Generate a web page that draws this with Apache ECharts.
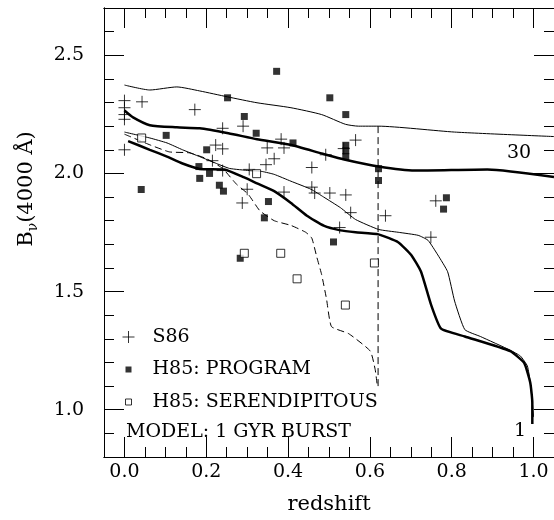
<!DOCTYPE html>
<html><head><meta charset="utf-8">
<script src="https://cdn.jsdelivr.net/npm/echarts@6/dist/echarts.min.js"></script>
<style>html,body{margin:0;padding:0;background:#fff}#c{width:554px;height:520px}</style>
</head><body><div id="c"></div>
<script>
// ---- data ----
const s86 = [[0.0,2.308],[0.0,2.278],[0.0,2.249],[0.0,2.229],[0.0,2.10],[0.043,2.303],[0.172,2.27],[0.24,2.191],[0.215,2.054],[0.223,2.12],[0.24,2.104],[0.24,2.012],[0.29,2.2],[0.30,1.933],[0.288,1.875],[0.305,2.017],[0.349,2.108],[0.366,2.062],[0.346,2.037],[0.383,2.145],[0.39,2.108],[0.39,1.921],[0.458,2.025],[0.458,1.942],[0.465,1.917],[0.492,2.079],[0.502,1.917],[0.541,1.909],[0.553,1.834],[0.526,1.771],[0.565,2.141],[0.536,2.105],[0.638,1.821],[0.761,1.884],[0.749,1.73]];
const h85Program = [[0.041,1.932],[0.102,2.161],[0.182,2.029],[0.184,1.979],[0.201,2.10],[0.208,2.0],[0.232,1.95],[0.242,1.925],[0.252,2.32],[0.283,1.641],[0.293,2.241],[0.322,2.17],[0.342,1.812],[0.352,1.881],[0.372,2.432],[0.412,2.129],[0.502,2.32],[0.511,1.71],[0.541,2.249],[0.541,2.119],[0.541,2.096],[0.541,2.071],[0.621,2.02],[0.621,1.97],[0.78,1.849],[0.787,1.897]];
const h85Serendip = [[0.042,2.15],[0.323,1.999],[0.293,1.662],[0.382,1.662],[0.422,1.554],[0.611,1.621],[0.54,1.443]];
// model curves
const thinUpper = [[0.0,2.374],[0.062,2.353],[0.128,2.366],[0.184,2.349],[0.252,2.324],[0.324,2.299],[0.407,2.278],[0.482,2.249],[0.54,2.208],[0.572,2.20],[0.62,2.20],[0.807,2.175],[1.05,2.156]];
const thickUpper = [[0.0,2.266],[0.021,2.237],[0.062,2.204],[0.128,2.195],[0.184,2.191],[0.254,2.17],[0.324,2.145],[0.405,2.121],[0.485,2.083],[0.54,2.058],[0.621,2.029],[0.71,2.012],[0.887,2.017],[1.05,1.985]];
const thinLower = [[0.0,2.175],[0.062,2.15],[0.104,2.129],[0.142,2.10],[0.184,2.071],[0.225,2.042],[0.257,2.021],[0.305,2.012],[0.337,2.008],[0.366,1.996],[0.407,1.967],[0.456,1.933],[0.487,1.90],[0.528,1.855],[0.565,1.805],[0.621,1.763],[0.669,1.751],[0.718,1.738],[0.742,1.717],[0.766,1.655],[0.79,1.584],[0.807,1.46],[0.832,1.339],[0.87,1.31],[0.943,1.252],[0.968,1.227],[0.985,1.185],[0.992,1.114],[0.997,1.031],[1.0,0.969]];
const thickLower = [[0.009,2.137],[0.062,2.10],[0.104,2.071],[0.142,2.042],[0.184,2.019],[0.244,2.017],[0.293,1.983],[0.324,1.958],[0.366,1.925],[0.407,1.875],[0.446,1.821],[0.487,1.779],[0.528,1.759],[0.565,1.751],[0.621,1.742],[0.669,1.709],[0.701,1.655],[0.725,1.584],[0.749,1.447],[0.774,1.343],[0.832,1.31],[0.943,1.248],[0.977,1.198],[0.992,1.114],[0.997,1.031],[0.997,0.94]];
const dashedModel = [[0.0,2.166],[0.062,2.121],[0.11,2.091],[0.159,2.087],[0.201,2.062],[0.24,2.021],[0.274,1.954],[0.302,1.913],[0.331,1.842],[0.366,1.80],[0.407,1.78],[0.443,1.751],[0.458,1.726],[0.47,1.647],[0.482,1.572],[0.494,1.468],[0.506,1.352],[0.548,1.322],[0.601,1.248],[0.613,1.169],[0.618,1.102]];
const cutoffLine = [[0.62,1.10],[0.62,2.20]];
// axis ticks
const xMajorTicks = [0.0,0.2,0.4,0.6,0.8,1.0];
const xMinorTicks = [-0.05,0.0,0.05,0.1,0.15,0.2,0.25,0.3,0.35,0.4,0.45,0.5,0.55,0.6,0.65,0.7,0.75,0.8,0.85,0.9,0.95,1.0,1.05];
const yMajorTicks = [1.0,1.5,2.0,2.5];
const yMinorTicks = [0.8,0.9,1.0,1.1,1.2,1.3,1.4,1.5,1.6,1.7,1.8,1.9,2.0,2.1,2.2,2.3,2.4,2.5,2.6,2.7];

const FONT = 'DejaVu Serif';
const BLACK = '#000';
const chart = echarts.init(document.getElementById('c'), null, {renderer:'canvas'});

function xAx(pos, ticks, len, labels){
  return {type:'value', min:-0.05, max:1.05, position:pos,
    axisLine:{show:true, onZero:false, lineStyle:{color:BLACK, width:1}},
    axisTick:{show:true, inside:true, length:len, customValues:ticks, lineStyle:{color:BLACK, width:1}},
    axisLabel:{show:labels, customValues:xMajorTicks, margin:6, color:BLACK, fontFamily:FONT, fontSize:19, formatter:v=>v.toFixed(1)},
    splitLine:{show:false}};
}
function yAx(pos, ticks, len, labels){
  return {type:'value', min:0.8, max:2.7, position:pos,
    axisLine:{show:true, onZero:false, lineStyle:{color:BLACK, width:1}},
    axisTick:{show:true, inside:true, length:len, customValues:ticks, lineStyle:{color:BLACK, width:1}},
    axisLabel:{show:labels, customValues:yMajorTicks, margin:20, color:BLACK, fontFamily:FONT, fontSize:19, formatter:v=>v.toFixed(1)},
    splitLine:{show:false}};
}
const xa = xAx('bottom', xMajorTicks, 20, true);
xa.name = 'redshift'; xa.nameLocation='middle'; xa.nameGap=37;
xa.nameTextStyle = {fontFamily:FONT, fontSize:21, color:BLACK};

function lineS(data, width, dashed, smooth){
  return {type:'line', data:data, symbol:'none', showSymbol:false, silent:true, smooth:smooth,
    lineStyle:{color:BLACK, width:width, type: dashed ? [7,4] : 'solid'}, z:2, animation:false};
}

const option = {
  animation:false,
  backgroundColor:'#fff',
  grid:{left:104, top:8, width:453, height:456, containLabel:false},
  xAxis:[xa, xAx('bottom', xMinorTicks, 10, false), xAx('top', xMajorTicks, 20, false), xAx('top', xMinorTicks, 10, false)],
  yAxis:[yAx('left', yMajorTicks, 20, true), yAx('left', yMinorTicks, 10, false), yAx('right', yMajorTicks, 20, false), yAx('right', yMinorTicks, 10, false)],
  legend:{orient:'vertical', left:119, top:327.5, padding:0, itemWidth:26, itemHeight:14, itemGap:13.5, selectedMode:false,
    textStyle:{fontFamily:FONT, fontSize:19, color:BLACK},
    data:[
      {name:'S86', icon:'path://M0,0M26,14M1,7L13,7M7,1L7,13', itemStyle:{color:'none', borderColor:BLACK, borderWidth:1}},
      {name:'H85: PROGRAM', icon:'path://M0,0M26,14M4,4L10,4L10,10L4,10Z', itemStyle:{color:BLACK, borderWidth:0}},
      {name:'H85: SERENDIPITOUS', icon:'path://M0,0M26,14M4,4L10,4L10,10L4,10Z', itemStyle:{color:'#fff', borderColor:BLACK, borderWidth:1}}
    ]},
  series:[
    lineS(thinUpper, 1, false, 0.2),
    lineS(thickUpper, 2.5, false, 0.2),
    lineS(thinLower, 1, false, 0.15),
    lineS(thickLower, 2.5, false, 0.15),
    lineS(dashedModel, 1, true, 0.15),
    lineS(cutoffLine, 1, true, false),
    {type:'scatter', name:'S86', data:s86, symbol:'path://M0,6L12,6M6,0L6,12', symbolSize:12,
      itemStyle:{color:'none', borderColor:BLACK, borderWidth:1}, z:5},
    {type:'scatter', name:'H85: PROGRAM', data:h85Program, symbol:'rect', symbolSize:7,
      itemStyle:{color:BLACK}, z:6},
    {type:'scatter', name:'H85: SERENDIPITOUS', data:h85Serendip, symbol:'rect', symbolSize:8,
      itemStyle:{color:'#fff', borderColor:BLACK, borderWidth:1}, z:6}
  ],
  graphic:[
    {type:'text', x:126, y:432, silent:true,
      style:{text:'MODEL: 1 GYR BURST', font:'19px "DejaVu Serif"', fill:BLACK, textAlign:'left', textVerticalAlign:'middle', align:'left', verticalAlign:'middle'}},
    {type:'text', x:519, y:153.5, silent:true,
      style:{text:'30', font:'19px "DejaVu Serif"', fill:BLACK, textAlign:'center', textVerticalAlign:'middle', align:'center', verticalAlign:'middle'}},
    {type:'text', x:520, y:431.5, silent:true,
      style:{text:'1', font:'19px "DejaVu Serif"', fill:BLACK, textAlign:'center', textVerticalAlign:'middle', align:'center', verticalAlign:'middle'}},
    {type:'text', x:27, y:189, rotation:Math.PI/2, silent:true,
      style:{text:'B{s|ν}(4000 Å)', font:'21px "DejaVu Serif"', fill:BLACK, textAlign:'center', textVerticalAlign:'middle', align:'center', verticalAlign:'middle',
        rich:{s:{fontFamily:FONT, fontSize:14, fill:BLACK, color:BLACK, padding:[12,0,0,0]}}}}
  ]
};
chart.setOption(option);
</script>
</body></html>
